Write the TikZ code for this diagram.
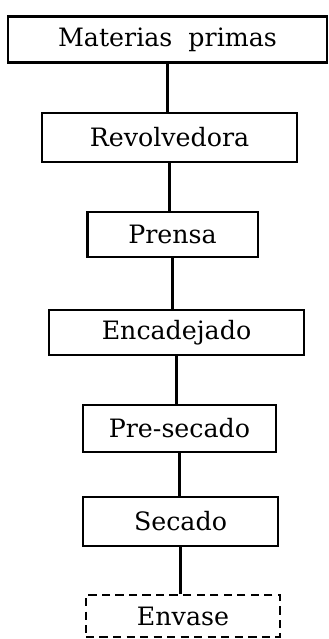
\documentclass[tikz,border=0pt]{standalone}
\usepackage{fontspec}
\setmainfont{DejaVu Serif}
\usepackage{tikz}
\usetikzlibrary{positioning}

\tikzstyle{procbox} = [draw=black, fill=white, line width=2.2pt,
rectangle, inner sep=0pt, font=\fontsize{21.5}{25}\selectfont]
\tikzstyle{endbox} = [procbox, dash pattern=on 7pt off 4.5pt]
\tikzstyle{link} = [draw=black, line width=2pt]

\begin{document}
\begin{tikzpicture}[x=0.85pt, y=-0.85pt]
        \useasboundingbox (0,0) rectangle (328,639);
        \node [procbox, minimum width=271pt, minimum height=39pt] (mat) at (167.5,39.5) {Materias\ \ primas};
        \node [procbox, minimum width=217pt, minimum height=41.5pt] (rev) at (169.5,137.5) {Revolvedora};
        \node [procbox, minimum width=145pt, minimum height=38pt] (pren) at (172.5,234.5) {Prensa};
        \node [procbox, minimum width=217pt, minimum height=38pt] (enc) at (176.5,332.5) {Encadejado};
        \node [procbox, minimum width=164pt, minimum height=40pt] (pres) at (179.5,428.5) {Pre-secado};
        \node [procbox, minimum width=166pt, minimum height=41.5pt] (sec) at (180.5,521.5) {Secado};
        \node [endbox, minimum width=165pt, minimum height=35.5pt] (env) at (183,616) {Envase};
        % conectores
        \draw [link] (mat.south) -- (mat.south |- rev.north);
        \draw [link] (rev.south) -- (rev.south |- pren.north);
        \draw [link] (pren.south) -- (pren.south |- enc.north);
        \draw [link] (enc.south) -- (enc.south |- pres.north);
        \draw [link] (pres.south) -- (pres.south |- sec.north);
        \draw [link] (sec.south) -- (sec.south |- env.north);
    \end{tikzpicture}
\end{document}
